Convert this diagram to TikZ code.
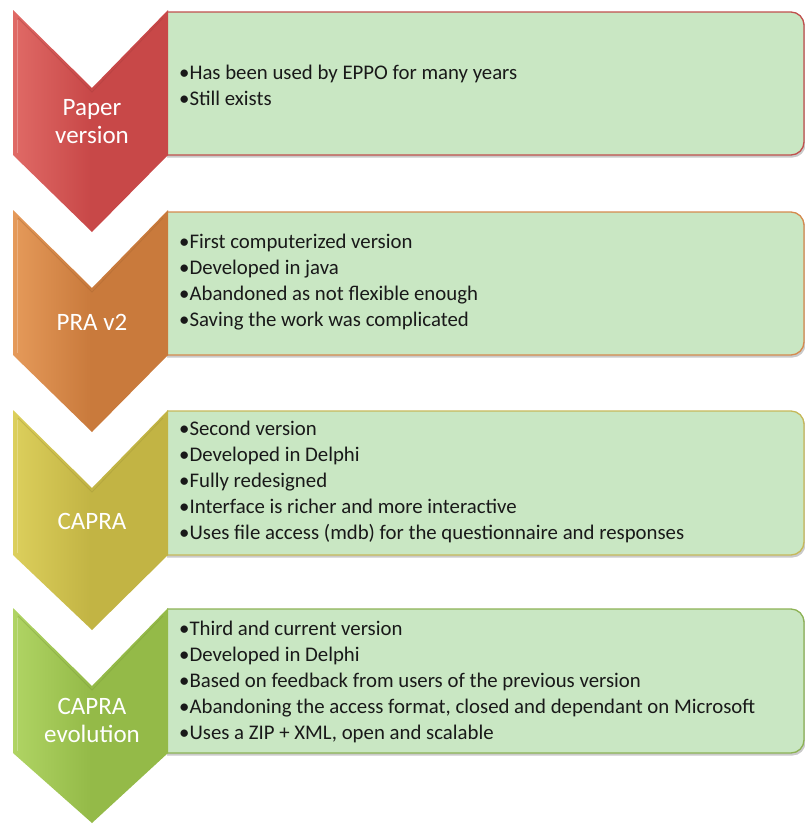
\documentclass[tikz,border=0pt]{standalone}
\usepackage{fontspec}
\setmainfont{Carlito}
\usetikzlibrary{shadows}
\definecolor{boxfill}{HTML}{C9E7C3}
\definecolor{cA}{HTML}{C84848}
\definecolor{cAl}{HTML}{E06A66}
\definecolor{cAb}{HTML}{C0504D}
\definecolor{cB}{HTML}{C97A3C}
\definecolor{cBl}{HTML}{E59A5A}
\definecolor{cBb}{HTML}{D58A4E}
\definecolor{cC}{HTML}{C2B444}
\definecolor{cCl}{HTML}{DCCF5C}
\definecolor{cCb}{HTML}{C6B85A}
\definecolor{cD}{HTML}{94BA48}
\definecolor{cDl}{HTML}{B0D464}
\definecolor{cDb}{HTML}{8DB255}
\tikzset{
  boxshape/.style={fill=boxfill, line width=1.3pt, rounded corners=13pt,
    drop shadow={shadow xshift=1.5pt, shadow yshift=-2.5pt, opacity=0.35, fill=black!60}},
  itemtxt/.style={anchor=west, align=left, inner sep=0pt, text=black!90,
    font=\fontsize{20.8}{26}\selectfont},
  chevtxt/.style={text=white, align=center, inner sep=0pt,
    font=\fontsize{25}{28}\selectfont},
}
\newcommand{\chevpath}[3]{% top, tip, sidebottom
  (13,#1) -- (92,#1+78) -- (168,#1) -- (168,#3) -- (92,#2) -- (13,#3) -- cycle}
\begin{document}
\begin{tikzpicture}[x=1pt,y=-1pt]
\useasboundingbox (0,0) rectangle (805,828);
% ---------- boxes ----------
\begin{scope}
\clip (167,0) rectangle (805,828);
\draw[boxshape, draw=cAb] (140,12) rectangle (804,155);
\draw[boxshape, draw=cBb] (140,212) rectangle (804,355);
\draw[boxshape, draw=cCb] (140,411) rectangle (804,555);
\draw[boxshape, draw=cDb] (140,609) rectangle (804,753);
\end{scope}
% ---------- chevrons ----------
\shade[left color=cAl, right color=cA, middle color=cA] \chevpath{10}{232}{155};
\shade[left color=cBl, right color=cB, middle color=cB] \chevpath{210}{432}{355};
\shade[left color=cCl, right color=cC, middle color=cC] \chevpath{410}{630}{555};
\shade[left color=cDl, right color=cD, middle color=cD] \chevpath{608}{823}{753};
% subtle bevel lines
\foreach \t/\tip/\sb/\c in {10/232/155/cA,210/432/355/cB,410/630/555/cC,608/823/753/cD}{
  \draw[\c!80!black, opacity=0.35, line width=0.8pt] (18,\t+8) -- (92,\t+82) -- (163,\t+8);
  \draw[white, opacity=0.25, line width=1pt] (17,\t+10) -- (17,\sb-2);
}
% ---------- chevron labels ----------
\node[chevtxt] (c1) at (92,122) {Paper\\version};
\node[chevtxt] (c2) at (92,322) {PRA v2};
\node[chevtxt] (c3) at (92,521) {CAPRA};
\node[chevtxt] (c4) at (92,720) {CAPRA\\evolution};
% ---------- box texts ----------
\node[itemtxt] (t1) at (179,85) {•Has been used by EPPO for many years\\•Still exists};
\node[itemtxt] (t2) at (179,282) {•First computerized version\\•Developed in java\\•Abandoned as not flexible enough\\•Saving the work was complicated};
\node[itemtxt] (t3) at (179,482) {•Second version\\•Developed in Delphi\\•Fully redesigned\\•Interface is richer and more interactive\\•Uses file access (mdb) for the questionnaire and responses};
\node[itemtxt] (t4) at (179,682) {•Third and current version\\•Developed in Delphi\\•Based on feedback from users of the previous version\\•Abandoning the access format, closed and dependant on Microsoft\\•Uses a ZIP + XML, open and scalable};
\end{tikzpicture}
\end{document}
